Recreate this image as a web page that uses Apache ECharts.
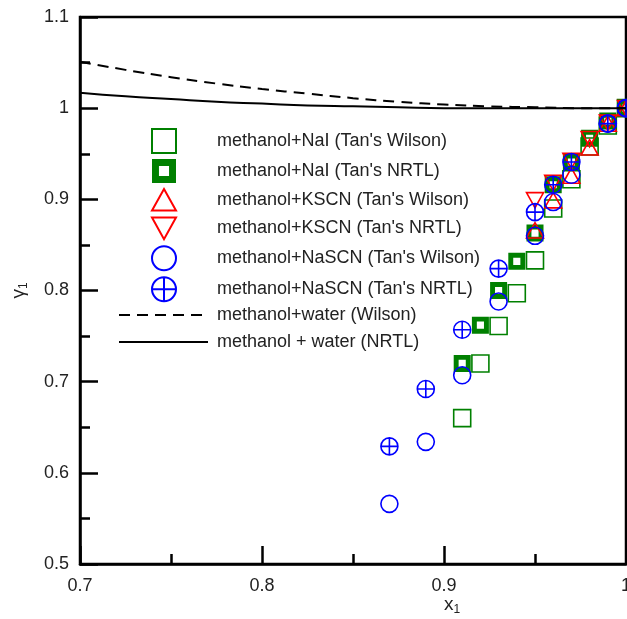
<!DOCTYPE html>
<html>
<head>
<meta charset="utf-8">
<script src="https://cdn.jsdelivr.net/npm/echarts@6/dist/echarts.min.js"></script>
<style>
html,body{margin:0;padding:0;background:#fff;overflow:hidden;}
#chart{width:627px;height:619px;}
</style>
</head>
<body>
<div id="chart"></div>
<script>
// ---- data ----
var xNaI = [0.91, 0.92, 0.93, 0.94, 0.95, 0.96, 0.97, 0.98, 0.99, 1.0];
var yNaIWilson = [0.660, 0.720, 0.761, 0.797, 0.833, 0.890, 0.922, 0.958, 0.981, 1.0];
var yNaINRTL = [0.720, 0.762, 0.800, 0.832, 0.863, 0.916, 0.941, 0.967, 0.986, 1.0];

var xKSCN = [0.95, 0.96, 0.97, 0.98, 0.99, 1.0];
var yKSCNWilson = [0.866, 0.899, 0.926, 0.957, 0.983, 1.0];
var yKSCNNRTL = [0.899, 0.918, 0.942, 0.966, 0.984, 1.0];

var xNaSCN = [0.87, 0.89, 0.91, 0.93, 0.95, 0.96, 0.97, 0.99, 1.0];
var yNaSCNWilson = [0.566, 0.634, 0.707, 0.788, 0.860, 0.897, 0.927, 0.983, 1.0];
var yNaSCNNRTL = [0.629, 0.692, 0.757, 0.824, 0.886, 0.916, 0.941, 0.983, 1.0];

var xWater = [0.70, 0.725, 0.75, 0.775, 0.80, 0.825, 0.85, 0.875, 0.90, 0.925, 0.95, 0.975, 1.0];
var yWaterWilson = [1.051, 1.042, 1.034, 1.027, 1.021, 1.016, 1.011, 1.007, 1.004, 1.002, 1.001, 1.000, 1.000];
var yWaterNRTL = [1.017, 1.013, 1.010, 1.007, 1.005, 1.003, 1.002, 1.001, 1.000, 1.000, 1.000, 1.000, 1.000];

var xTicks = { min: 0.7, max: 1.0, interval: 0.1 };
var yTicks = { min: 0.5, max: 1.1, interval: 0.1 };

var names = [
  "methanol+NaI (Tan's Wilson)",
  "methanol+NaI (Tan's NRTL)",
  "methanol+KSCN (Tan's Wilson)",
  "methanol+KSCN (Tan's NRTL)",
  "methanol+NaSCN (Tan's Wilson)",
  "methanol+NaSCN (Tan's NRTL)",
  "methanol+water (Wilson)",
  "methanol + water (NRTL)"
];

function pairs(xs, ys) { return xs.map(function (x, i) { return [x, ys[i]]; }); }

var FONT = 'Liberation Sans, Arial, sans-serif';
var GREEN = '#008000', RED = '#ff0000', BLUE = '#0000ff';

var SYM_SQUARE = 'path://M0,0L10,0L10,10L0,10Z';
var SYM_SQUARE_HOLE = 'path://M0,0L10,0L10,10L0,10Z M2.9,2.9L2.9,7.1L7.1,7.1L7.1,2.9Z';
var SYM_TRI_UP = 'path://M5,0L10,9L0,9Z';
var SYM_TRI_DOWN = 'path://M0,0L10,0L5,9Z';
var SYM_CIRCLE = 'path://M5,0A5,5 0 1,1 5,10A5,5 0 1,1 5,0Z';
var SYM_CIRCLE_CROSS = 'path://M5,0A5,5 0 1,1 5,10A5,5 0 1,1 5,0Z M0,5L10,5 M5,0L5,10';

function scatter(name, data, symbol, color, filled) {
  return {
    type: 'scatter', name: name, data: data,
    symbol: symbol, symbolSize: 17, symbolKeepAspect: true,
    itemStyle: filled ? { color: color, borderWidth: 0, opacity: 1 }
                      : { color: 'transparent', borderColor: color, borderWidth: 1.6, opacity: 1 },
    emphasis: { disabled: true }
  };
}

var chart = echarts.init(document.getElementById('chart'), null, { renderer: 'canvas', width: 627, height: 619 });

var axisCommon = {
  axisLine: { lineStyle: { color: '#000', width: 2.5 } },
  axisTick: { show: true, inside: true, length: 18, lineStyle: { color: '#000', width: 2.5 } },
  minorTick: { show: true, splitNumber: 2, length: 10, lineStyle: { color: '#000', width: 2.5 } },
  splitLine: { show: false }
};

var option = {
  animation: false,
  backgroundColor: '#fff',
  grid: { left: 80, right: 1, top: 17, bottom: 55, outerBoundsMode: 'none', containLabel: false,
          show: true, borderColor: '#000', borderWidth: 2.5, backgroundColor: 'transparent' },
  xAxis: Object.assign({
    type: 'value', min: xTicks.min, max: xTicks.max, interval: xTicks.interval,
    name: '{i|x}{s|1}', nameLocation: 'middle', nameGap: 30, nameMoveOverlap: false,
    nameTextStyle: {
      padding: [0, 0, 0, 198],
      rich: {
        i: { fontSize: 19, fontFamily: FONT, color: '#222', lineHeight: 22 },
        s: { fontSize: 12, fontFamily: FONT, color: '#222', lineHeight: 12, verticalAlign: 'bottom' }
      }
    },
    axisLabel: { color: '#222', fontSize: 18, fontFamily: FONT, margin: 13 }
  }, axisCommon),
  yAxis: Object.assign({
    type: 'value', min: yTicks.min, max: yTicks.max, interval: yTicks.interval,
    name: '{i|γ}{s|1}', nameLocation: 'middle', nameGap: 50, nameRotate: 90,
    nameTextStyle: {
      rich: {
        i: { fontSize: 19, fontFamily: FONT, color: '#222', lineHeight: 22 },
        s: { fontSize: 12, fontFamily: FONT, color: '#222', lineHeight: 12, verticalAlign: 'bottom' }
      }
    },
    axisLabel: { color: '#222', fontSize: 18, fontFamily: FONT, margin: 11 }
  }, axisCommon),
  legend: [
    {
      orient: 'vertical', left: 151, top: 128, padding: 0,
      itemWidth: 24, itemHeight: 24, itemGap: 5,
      selectedMode: false,
      textStyle: { fontSize: 18, fontFamily: FONT, color: '#222', padding: [0, 0, 0, 36] },
      data: names.slice(0, 6)
    },
    {
      orient: 'vertical', left: 118, top: 306, padding: 0,
      itemWidth: 89, itemHeight: 14, itemGap: 9,
      selectedMode: false,
      itemStyle: { color: 'transparent', borderColor: 'transparent', borderWidth: 0 },
      textStyle: { fontSize: 18, fontFamily: FONT, color: '#222', padding: [0, 0, 0, 4] },
      data: names.slice(6, 8)
    }
  ],
  series: [
    {
      type: 'line', name: names[6], data: pairs(xWater, yWaterWilson),
      symbol: 'none', showSymbol: false, smooth: true,
      lineStyle: { color: '#000', width: 2, type: [11, 7] },
      itemStyle: { color: '#000' }
    },
    {
      type: 'line', name: names[7], data: pairs(xWater, yWaterNRTL),
      symbol: 'none', showSymbol: false, smooth: true,
      lineStyle: { color: '#000', width: 2, type: 'solid' },
      itemStyle: { color: '#000' }
    },
    scatter(names[0], pairs(xNaI, yNaIWilson), SYM_SQUARE, GREEN, false),
    scatter(names[1], pairs(xNaI, yNaINRTL), SYM_SQUARE_HOLE, GREEN, true),
    scatter(names[2], pairs(xKSCN, yKSCNWilson), SYM_TRI_UP, RED, false),
    scatter(names[3], pairs(xKSCN, yKSCNNRTL), SYM_TRI_DOWN, RED, false),
    scatter(names[4], pairs(xNaSCN, yNaSCNWilson), SYM_CIRCLE, BLUE, false),
    scatter(names[5], pairs(xNaSCN, yNaSCNNRTL), SYM_CIRCLE_CROSS, BLUE, false)
  ]
};
chart.setOption(option);
</script>
</body>
</html>
